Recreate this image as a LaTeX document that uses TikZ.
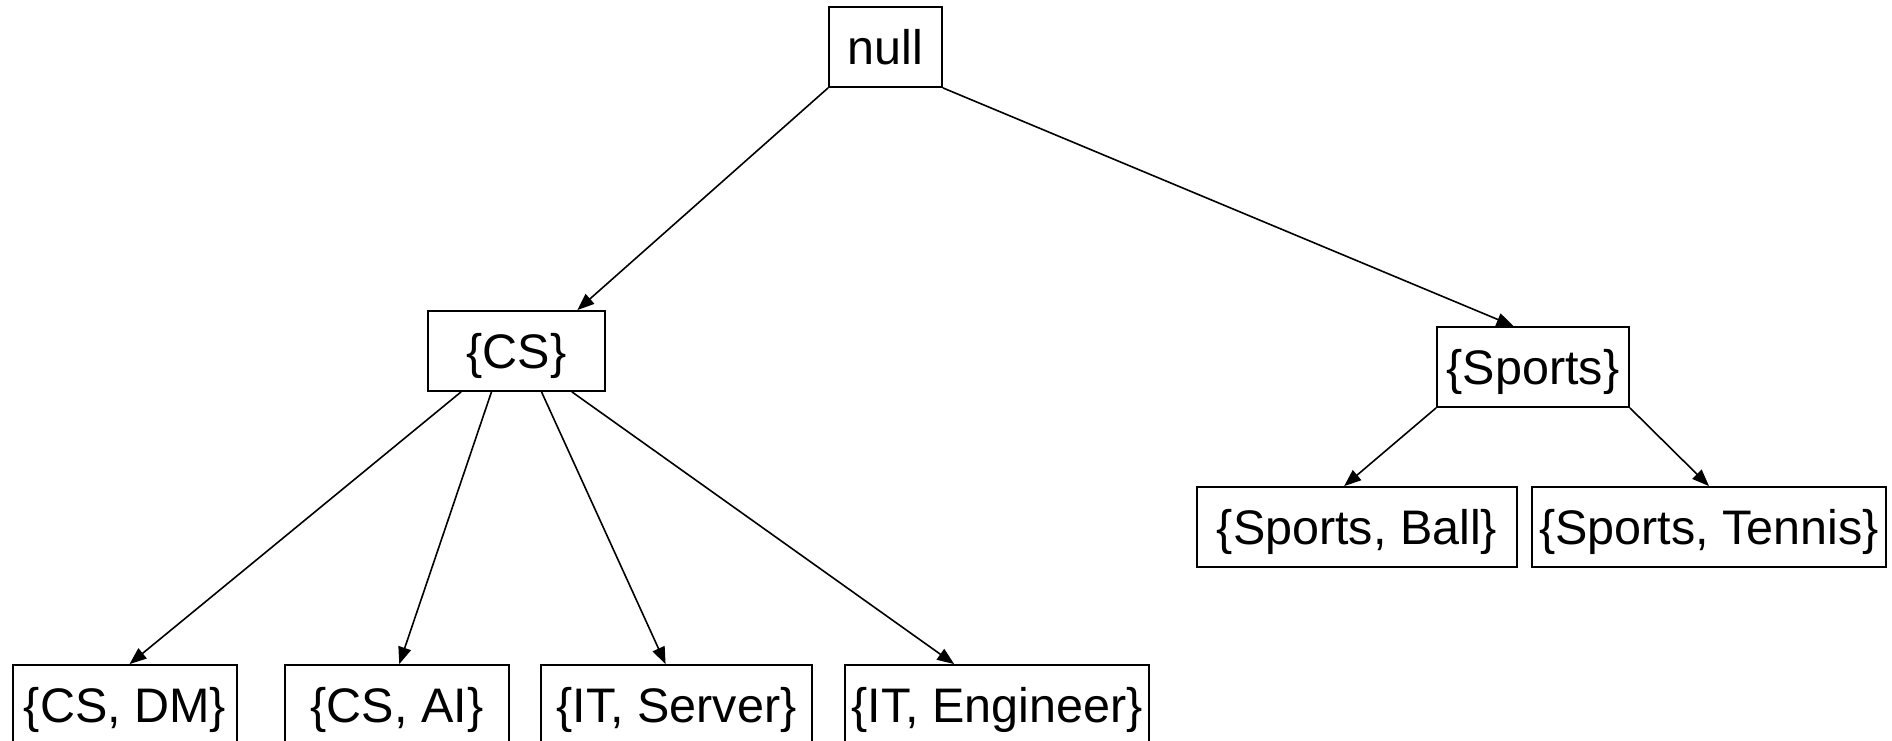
\documentclass[tikz,border=0pt]{standalone}
\usepackage{fontspec}
\setmainfont{Liberation Sans}
\usetikzlibrary{arrows.meta,calc}
\tikzset{
  box/.style={draw, line width=1.8pt, inner sep=0pt, minimum height=80pt,
    text height=45pt, text depth=10pt,
    font=\fontsize{48.5}{58}\selectfont, anchor=center},
  link/.style={line width=1.6pt, -{Triangle[length=17pt,width=13pt]}},
}
\begin{document}
\begin{tikzpicture}[x=1pt,y=-1pt]
\useasboundingbox (0,0) rectangle (1892,741);
\clip (0,0) rectangle (1892,741);
% tree of item sets
\node[box, minimum width=113pt] (null) at (885.5,47) {null};
\node[box, minimum width=177pt] (cs) at (516.5,351) {\{CS\}};
\node[box, minimum width=192pt] (sp) at (1533,367) {\{Sports\}};
\node[box, minimum width=320pt] (spball) at (1357,527) {\{Sports, Ball\}};
\node[box, minimum width=354pt] (sptennis) at (1709,527) {\{Sports, Tennis\}};
\node[box, minimum width=224pt] (csdm) at (125,705) {\{CS, DM\}};
\node[box, minimum width=224pt] (csai) at (397,705) {\{CS, AI\}};
\node[box, minimum width=271pt] (itserver) at (676.5,705) {\{IT, Server\}};
\node[box, minimum width=304pt] (iteng) at (997,705) {\{IT, Engineer\}};
% parent to child links
\draw[link] (null.south west) -- ($(cs.north west)!0.84!(cs.north east)$);
\draw[link] (null.south east) -- ($(sp.north west)!0.40!(sp.north east)$);
\draw[link] ($(cs.south west)!0.19!(cs.south east)$) -- ($(csdm.north west)!0.52!(csdm.north east)$);
\draw[link] ($(cs.south west)!0.36!(cs.south east)$) -- ($(csai.north west)!0.51!(csai.north east)$);
\draw[link] ($(cs.south west)!0.64!(cs.south east)$) -- ($(itserver.north west)!0.46!(itserver.north east)$);
\draw[link] ($(cs.south west)!0.81!(cs.south east)$) -- ($(iteng.north west)!0.36!(iteng.north east)$);
\draw[link] (sp.south west) -- ($(spball.north west)!0.46!(spball.north east)$);
\draw[link] (sp.south east) -- ($(sptennis.north west)!0.50!(sptennis.north east)$);
\end{tikzpicture}
\end{document}
